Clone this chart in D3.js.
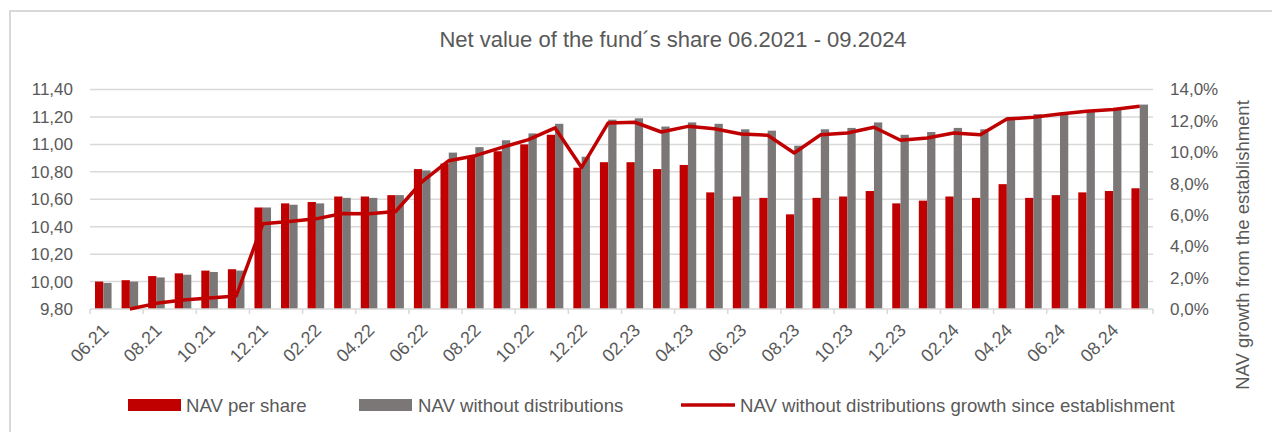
<!DOCTYPE html>
<html>
<head>
<meta charset="utf-8">
<script src="https://cdn.jsdelivr.net/npm/d3@7"></script>
<style>
  html, body { margin: 0; padding: 0; background: #fff; }
  svg { display: block; font-family: 'Liberation Sans', Arial, sans-serif; }
  text { fill: #595959; }
</style>
</head>
<body>
<svg width="1272" height="432"></svg>
<script>
var months = ['06.21', '07.21', '08.21', '09.21', '10.21', '11.21', '12.21',
  '01.22', '02.22', '03.22', '04.22', '05.22', '06.22', '07.22', '08.22', '09.22', '10.22', '11.22', '12.22',
  '01.23', '02.23', '03.23', '04.23', '05.23', '06.23', '07.23', '08.23', '09.23', '10.23', '11.23', '12.23',
  '01.24', '02.24', '03.24', '04.24', '05.24', '06.24', '07.24', '08.24', '09.24']

var navPerShare = [10.00, 10.01, 10.04, 10.06, 10.08, 10.09, 10.54,
  10.57, 10.58, 10.62, 10.62, 10.63, 10.82, 10.86, 10.91, 10.95, 11.00, 11.07, 10.83,
  10.87, 10.87, 10.82, 10.85, 10.65, 10.62, 10.61, 10.49, 10.61, 10.62, 10.66, 10.57,
  10.59, 10.62, 10.61, 10.71, 10.61, 10.63, 10.65, 10.66, 10.68]

var navNoDist = [9.99, 10.00, 10.03, 10.05, 10.07, 10.08, 10.54,
  10.56, 10.57, 10.61, 10.61, 10.63, 10.81, 10.94, 10.98, 11.03, 11.08, 11.15, 10.91,
  11.18, 11.19, 11.13, 11.16, 11.15, 11.11, 11.10, 10.99, 11.11, 11.12, 11.16, 11.07,
  11.09, 11.12, 11.11, 11.20, 11.22, 11.23, 11.25, 11.26, 11.29]

// growth since establishment, in %
var growth = [null, 0.00, 0.36, 0.58, 0.70, 0.83, 5.43,
  5.58, 5.75, 6.09, 6.07, 6.22, 8.13, 9.46, 9.78, 10.31, 10.80, 11.55, 9.03,
  11.87, 11.91, 11.29, 11.65, 11.50, 11.16, 11.08, 9.95, 11.12, 11.23, 11.59, 10.76,
  10.91, 11.23, 11.12, 12.12, 12.23, 12.44, 12.61, 12.72, 12.93]

var leftTicks = [9.8, 10.0, 10.2, 10.4, 10.6, 10.8, 11.0, 11.2, 11.4]
var rightTicks = [0, 2, 4, 6, 8, 10, 12, 14]

var titleText = 'Net value of the fund\u00b4s share 06.2021 - 09.2024'
var rightTitle = 'NAV growth from the establishment'
var legendItems = ['NAV per share', 'NAV without distributions', 'NAV without distributions growth since establishment']

;(function () {

  var svg = d3.select('svg')
  var red = '#c00000'
  var grey = '#7c7777'
  var gridColor = '#d9d9d9'

  var plot = { left: 90, right: 1153, top: 89.5, bottom: 309 }

  // chart frame
  svg.append('rect')
    .attr('x', 10).attr('y', 11)
    .attr('width', 1300).attr('height', 460)
    .attr('fill', 'none')
    .attr('stroke', gridColor)
    .attr('stroke-width', 2)

  var x0 = d3.scaleBand()
    .domain(months)
    .range([plot.left, plot.right])
    .paddingInner(0.376)
    .paddingOuter(0.188)

  var x1 = d3.scaleBand()
    .domain(['nav', 'noDist'])
    .range([0, x0.bandwidth()])

  var yLeft = d3.scaleLinear().domain([9.8, 11.4]).range([plot.bottom, plot.top])
  var yRight = d3.scaleLinear().domain([0, 14]).range([plot.bottom, plot.top])

  var comma = function (f) { return function (v) { return f(v).replace('.', ',') } }
  var fmtLeft = comma(d3.format('.2f'))
  var fmtRight = comma(d3.format('.1f'))

  // gridlines
  svg.append('g')
    .selectAll('line')
    .data(leftTicks.slice(1))
    .enter().append('line')
    .attr('x1', plot.left).attr('x2', plot.right)
    .attr('y1', function (d) { return yLeft(d) }).attr('y2', function (d) { return yLeft(d) })
    .attr('stroke', gridColor)
    .attr('stroke-width', 1.5)

  // left axis labels
  svg.append('g')
    .selectAll('text')
    .data(leftTicks)
    .enter().append('text')
    .attr('x', 73)
    .attr('y', function (d) { return yLeft(d) })
    .attr('dy', '0.35em')
    .attr('text-anchor', 'end')
    .style('font-size', '17px')
    .text(fmtLeft)

  // right axis labels
  svg.append('g')
    .selectAll('text')
    .data(rightTicks)
    .enter().append('text')
    .attr('x', 1170)
    .attr('y', function (d) { return yRight(d) })
    .attr('dy', '0.35em')
    .style('font-size', '17px')
    .text(function (d) { return fmtRight(d) + '%' })

  // bars
  var groups = svg.append('g')
    .selectAll('g')
    .data(months)
    .enter().append('g')
    .attr('transform', function (d) { return 'translate(' + x0(d) + ',0)' })

  groups.append('rect')
    .attr('x', x1('nav'))
    .attr('width', x1.bandwidth())
    .attr('y', function (d, i) { return yLeft(navPerShare[i]) })
    .attr('height', function (d, i) { return plot.bottom - yLeft(navPerShare[i]) })
    .attr('fill', red)

  groups.append('rect')
    .attr('x', x1('noDist'))
    .attr('width', x1.bandwidth())
    .attr('y', function (d, i) { return yLeft(navNoDist[i]) })
    .attr('height', function (d, i) { return plot.bottom - yLeft(navNoDist[i]) })
    .attr('fill', grey)

  // x axis baseline and ticks
  var step = x0.step()
  var axisG = svg.append('g')
  axisG.append('line')
    .attr('x1', plot.left).attr('x2', plot.right)
    .attr('y1', plot.bottom).attr('y2', plot.bottom)
    .attr('stroke', gridColor).attr('stroke-width', 1.5)

  axisG.selectAll('line.tick')
    .data(d3.range(0, months.length + 1, 2))
    .enter().append('line')
    .attr('class', 'tick')
    .attr('x1', function (k) { return plot.left + k * step })
    .attr('x2', function (k) { return plot.left + k * step })
    .attr('y1', plot.bottom).attr('y2', plot.bottom + 5)
    .attr('stroke', gridColor).attr('stroke-width', 1.5)

  axisG.selectAll('text')
    .data(months.filter(function (d, i) { return i % 2 === 0 }))
    .enter().append('text')
    .attr('text-anchor', 'end')
    .attr('dy', '0.35em')
    .attr('transform', function (d) {
      var cx = x0(d) + x0.bandwidth() / 2 + 2
      return 'translate(' + cx + ',' + 327 + ') rotate(-45)'
    })
    .style('font-size', '18px')
    .text(function (d) { return d })

  // growth line
  var line = d3.line()
    .defined(function (d) { return d !== null })
    .x(function (d, i) { return x0(months[i]) + x0.bandwidth() / 2 })
    .y(function (d) { return yRight(d) })

  svg.append('path')
    .datum(growth)
    .attr('d', line)
    .attr('fill', 'none')
    .attr('stroke', red)
    .attr('stroke-width', 3.5)
    .attr('stroke-linejoin', 'round')

  // title
  svg.append('text')
    .attr('x', 673).attr('y', 47)
    .attr('text-anchor', 'middle')
    .style('font-size', '22px')
    .text(titleText)

  // right axis title
  svg.append('text')
    .attr('transform', 'translate(1249,' + 245 + ') rotate(-90)')
    .attr('text-anchor', 'middle')
    .style('font-size', '18.5px')
    .text(rightTitle)

  // legend
  var ly = 405
  var legend = svg.append('g')
  legend.append('rect')
    .attr('x', 128).attr('y', ly - 6).attr('width', 53).attr('height', 12)
    .attr('fill', red)
  legend.append('rect')
    .attr('x', 359).attr('y', ly - 6).attr('width', 53).attr('height', 12)
    .attr('fill', grey)
  legend.append('line')
    .attr('x1', 681).attr('x2', 735).attr('y1', ly).attr('y2', ly)
    .attr('stroke', red).attr('stroke-width', 3.5)

  legend.selectAll('text')
    .data(legendItems)
    .enter().append('text')
    .attr('x', function (d, i) { return [186, 418, 740][i] })
    .attr('y', ly)
    .attr('dy', '0.35em')
    .style('font-size', '18.6px')
    .text(function (d) { return d })

})()
</script>
</body>
</html>
